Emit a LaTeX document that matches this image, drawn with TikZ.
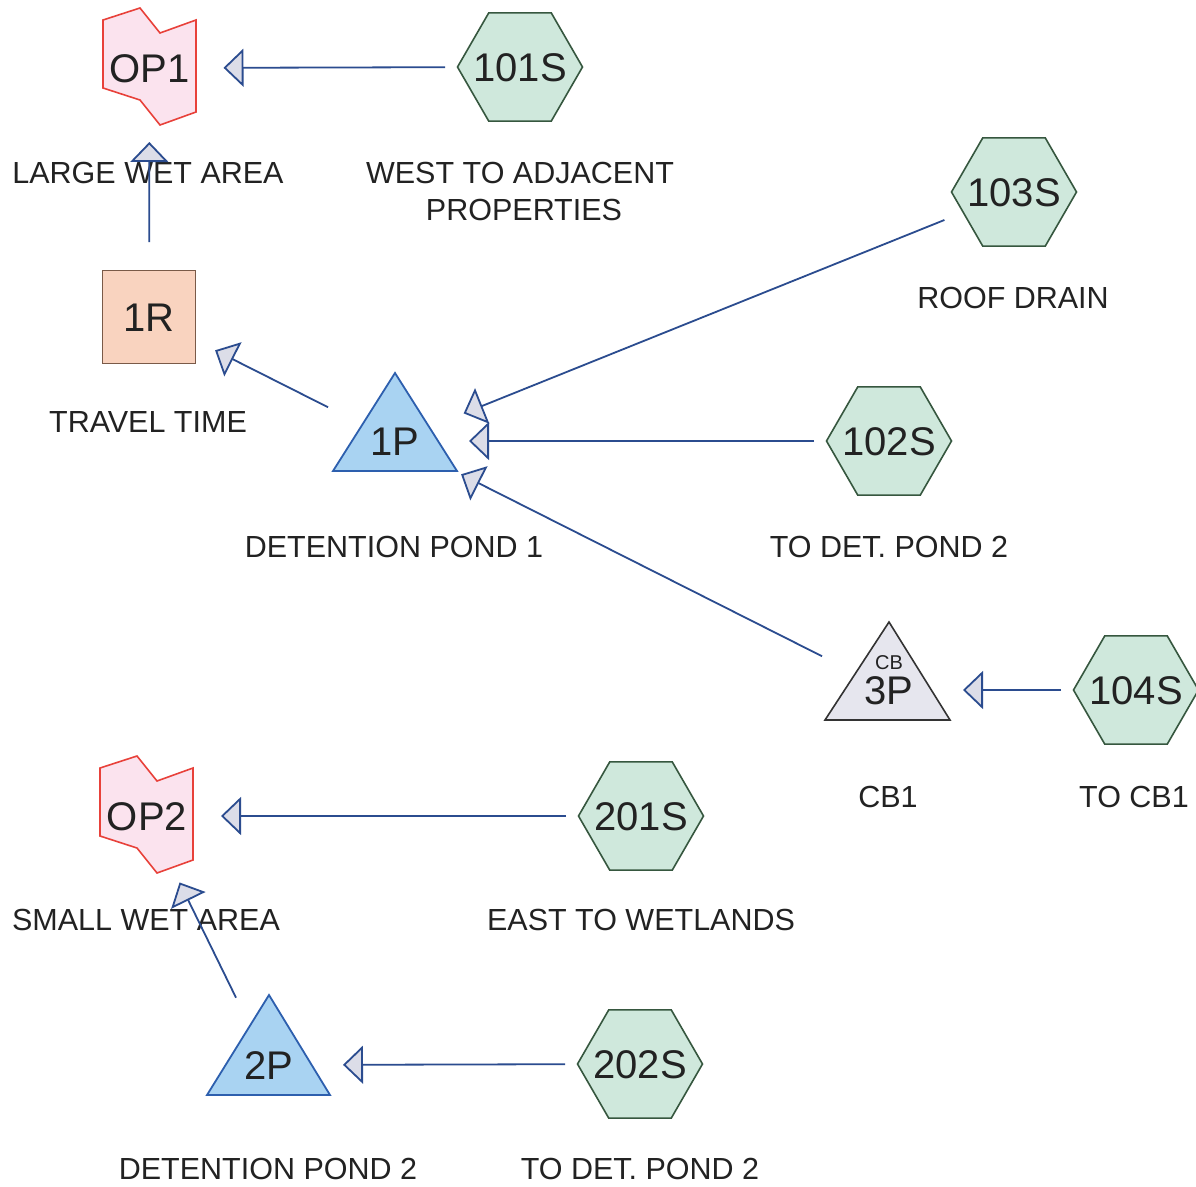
\documentclass[tikz,border=0pt]{standalone}
\usepackage{fontspec}
\setmainfont{Liberation Sans}
\usetikzlibrary{arrows.meta,shapes.geometric}
\definecolor{hexfill}{HTML}{CFE8DC}
\definecolor{hexline}{HTML}{36573F}
\definecolor{opfill}{HTML}{FBE3EE}
\definecolor{opline}{HTML}{E8413A}
\definecolor{pondfill}{HTML}{A9D3F2}
\definecolor{pondline}{HTML}{2D5FAE}
\definecolor{cbfill}{HTML}{E6E6EE}
\definecolor{cbline}{HTML}{333333}
\definecolor{reachfill}{HTML}{F9D3BF}
\definecolor{reachline}{HTML}{7A5A48}
\definecolor{linkcol}{HTML}{2B4C8F}
\definecolor{headfill}{HTML}{DCDDE8}
\definecolor{txtcol}{HTML}{222222}
\newcommand{\hexlabel}[1]{\makebox[0pt]{#1}}
\tikzset{
  bigtxt/.style={font=\fontsize{40pt}{46pt}\selectfont, text=txtcol, text height=28.6pt, text depth=0pt, inner sep=0pt},
  subcat/.style={regular polygon, regular polygon sides=6, minimum size=125pt, inner sep=0pt, fill=hexfill, draw=hexline, line width=1.6pt, bigtxt},
  reachbox/.style={rectangle, minimum size=93pt, inner sep=0pt, fill=reachfill, draw=reachline, line width=1.6pt, bigtxt},
  pondshape/.style={fill=pondfill, draw=pondline, line width=1.8pt, line join=miter},
  cbshape/.style={fill=cbfill, draw=cbline, line width=1.6pt},
  opshape/.style={fill=opfill, draw=opline, line width=1.6pt, line join=miter},
  lbl/.style={font=\fontsize{30.5pt}{37pt}\selectfont, text=txtcol, text height=22pt, text depth=0pt, inner sep=0pt, align=center},
  link/.style={draw=linkcol, line width=1.8pt, shorten <=75pt, shorten >=74pt,
    -{Triangle[length=20pt,width=38pt,fill=headfill]}},
}
\begin{document}
\begin{tikzpicture}[x=1pt,y=-1pt]
\useasboundingbox (0,0) rectangle (1196,1186);
\fill[white] (0,0) rectangle (1196,1186);

% outfall reaches
\path[opshape] (103,20) -- (140,8) -- (160,33) -- (196,20) -- (196,112) -- (160,125) -- (140,100) -- (103,88) -- cycle;
\node[bigtxt] (op1) at (149.5,68) {OP1};
\begin{scope}[shift={(-3,748)}]
\path[opshape] (103,20) -- (140,8) -- (160,33) -- (196,20) -- (196,112) -- (160,125) -- (140,100) -- (103,88) -- cycle;
\end{scope}
\node[bigtxt] (op2) at (147,816) {OP2};

% ponds
\path[pondshape] (395,373) -- (457,471) -- (333,471) -- cycle;
\node[bigtxt] (p1) at (395,441) {1P};
\path[pondshape] (269,995) -- (330,1095) -- (207,1095) -- cycle;
\node[bigtxt] (p2) at (269,1065) {2P};
\path[cbshape] (889,622) -- (950,720) -- (825,720) -- cycle;
\node[bigtxt] (p3) at (889,690) {3P};
\node[font=\fontsize{20pt}{24pt}\selectfont, text=txtcol, text height=14pt, text depth=0pt, inner sep=0pt] (cb) at (889,662) {CB};

% reach
\node[reachbox] (r1) at (149,317) {1R};

% subcatchments
\node[subcat] (s101) at (520,67) {\hexlabel{101S}};
\node[subcat] (s103) at (1014,192) {\hexlabel{103S}};
\node[subcat] (s102) at (889,441) {\hexlabel{102S}};
\node[subcat] (s104) at (1136,690) {\hexlabel{104S}};
\node[subcat] (s201) at (641,816) {\hexlabel{201S}};
\node[subcat] (s202) at (640,1064) {\hexlabel{202S}};

% labels
\node[lbl] (l1) at (148,172) {LARGE WET AREA};
\node[lbl] (l2) at (520,172) {WEST TO ADJACENT};
\node[lbl] (l2b) at (524,209) {PROPERTIES};
\node[lbl] (l3) at (1013,297) {ROOF DRAIN};
\node[lbl] (l4) at (148,421) {TRAVEL TIME};
\node[lbl] (l5) at (394,546) {DETENTION POND 1};
\node[lbl] (l6) at (889,546) {TO DET. POND 2};
\node[lbl] (l7) at (888,796) {CB1};
\node[lbl] (l8) at (1134,796) {TO CB1};
\node[lbl] (l9) at (146,919) {SMALL WET AREA};
\node[lbl] (l10) at (641,919) {EAST TO WETLANDS};
\node[lbl] (l11) at (268,1168) {DETENTION POND 2};
\node[lbl] (l12) at (640,1168) {TO DET. POND 2};

% connectors
\draw[link] (s101.center) -- (op1.center);
\draw[link] (r1.center) -- (op1.center);
\draw[link] (p1.center) -- (r1.center);
\draw[link] (s103.center) -- (p1.center);
\draw[link] (s102.center) -- (p1.center);
\draw[link] (p3.center) -- (p1.center);
\draw[link] (s104.center) -- (p3.center);
\draw[link] (s201.center) -- (op2.center);
\draw[link] (p2.center) -- (op2.center);
\draw[link] (s202.center) -- (p2.center);
\end{tikzpicture}
\end{document}
